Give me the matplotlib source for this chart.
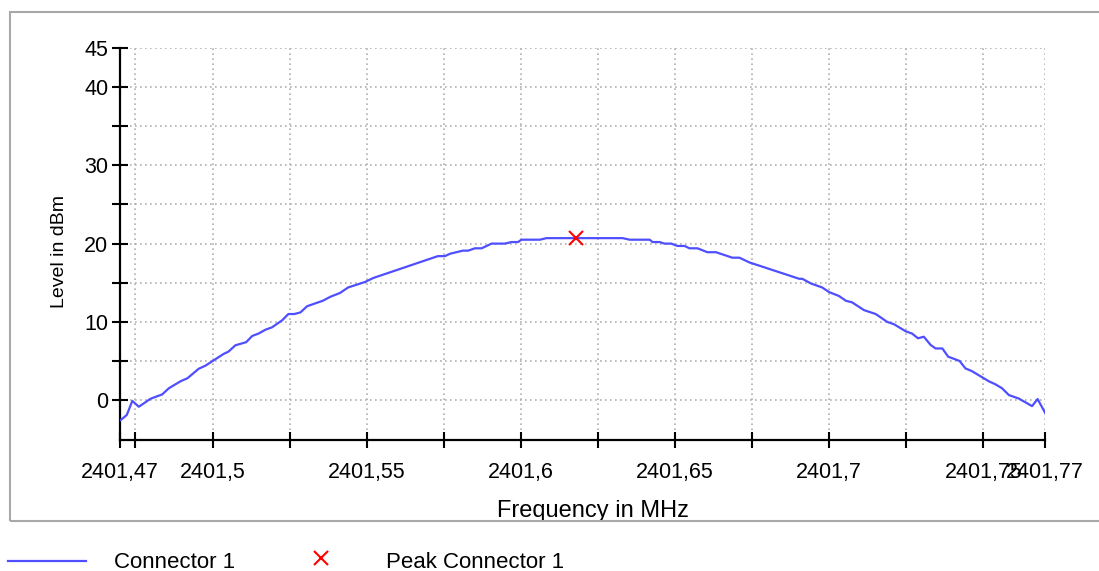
import matplotlib
matplotlib.use("Agg")
import matplotlib.pyplot as plt
from matplotlib.lines import Line2D
from matplotlib.patches import Rectangle

plt.rcParams['font.family'] = ['Liberation Sans', 'DejaVu Sans']

# measured trace (MHz, dBm)
freq = [2401.4702, 2401.4722, 2401.4740, 2401.4761, 2401.4799, 2401.4837, 2401.4858, 2401.4896,
        2401.4919, 2401.4955, 2401.4977, 2401.5036, 2401.5052, 2401.5074, 2401.5109, 2401.5129,
        2401.5149, 2401.5172, 2401.5193, 2401.5226, 2401.5246, 2401.5265, 2401.5285, 2401.5307,
        2401.5358, 2401.5382, 2401.5414, 2401.5440, 2401.5495, 2401.5521, 2401.5731, 2401.5754,
        2401.5770, 2401.5812, 2401.5829, 2401.5851, 2401.5873, 2401.5905, 2401.5948, 2401.5970,
        2401.5991, 2401.6002, 2401.6062, 2401.6083, 2401.6330, 2401.6353, 2401.6418, 2401.6427,
        2401.6450, 2401.6466, 2401.6488, 2401.6508, 2401.6531, 2401.6547, 2401.6573, 2401.6605,
        2401.6633, 2401.6686, 2401.6709, 2401.6741, 2401.6903, 2401.6913, 2401.6941, 2401.6977,
        2401.7000, 2401.7032, 2401.7054, 2401.7074, 2401.7113, 2401.7151, 2401.7188, 2401.7210,
        2401.7248, 2401.7269, 2401.7288, 2401.7307, 2401.7329, 2401.7345, 2401.7367, 2401.7386,
        2401.7423, 2401.7442, 2401.7463, 2401.7518, 2401.7540, 2401.7561, 2401.7583, 2401.7615,
        2401.7658, 2401.7676, 2401.7700]
level = [-2.56, -1.9, -0.1, -0.85, 0.17, 0.73, 1.5, 2.4, 2.8, 4.0, 4.4,
         5.9, 6.2, 7.0, 7.4, 8.2, 8.5, 9.0, 9.3, 10.2, 11.0,
         11.0, 11.2, 12.0, 12.7, 13.2, 13.7, 14.4, 15.1, 15.6,
         18.4, 18.4, 18.7, 19.1, 19.1, 19.4, 19.4, 20.0, 20.0, 20.2,
         20.2, 20.5, 20.5, 20.7, 20.7, 20.5, 20.5, 20.2, 20.2, 20.0,
         20.0, 19.7, 19.7, 19.4, 19.4, 18.9, 18.9, 18.2, 18.2, 17.6,
         15.5, 15.5, 14.9, 14.4, 13.8, 13.3, 12.7, 12.5, 11.5, 11.0,
         10.0, 9.7, 8.8, 8.5, 7.9, 8.1, 7.05, 6.6, 6.6, 5.55,
         5.0, 4.05, 3.7, 2.4, 2.0, 1.5, 0.64, 0.2, -0.77, 0.13, -1.6]

peak_freq = [2401.618]
peak_level = [20.7]

x_ticks = [2401.47, 2401.475, 2401.5, 2401.525, 2401.55, 2401.575, 2401.6, 2401.625,
           2401.65, 2401.675, 2401.7, 2401.725, 2401.75, 2401.77]
x_labels = ['2401,47', '', '2401,5', '', '2401,55', '', '2401,6', '',
            '2401,65', '', '2401,7', '', '2401,75', '2401,77']
y_ticks = [0, 5, 10, 15, 20, 25, 30, 35, 40, 45]
y_labels = ['0', '', '10', '', '20', '', '30', '', '40', '45']

blue = '#4f4fff'

fig = plt.figure(figsize=(10.99, 5.71), dpi=100)
W, H = 1099, 571

ax = fig.add_axes([120 / W, 1 - 440 / H, 925 / W, 392 / H])
ax.plot(freq, level, color=blue, lw=1.6, zorder=3)
ax.plot(peak_freq, peak_level, linestyle='None', marker='x', color='red',
        ms=10, mew=1.5, zorder=4)

ax.set_xlim(2401.47, 2401.77)
ax.set_ylim(-5.1, 45)
ax.set_xticks(x_ticks)
ax.set_xticklabels(x_labels)
ax.set_yticks(y_ticks)
ax.set_yticklabels(y_labels)

ax.grid(True, color='#b0b0b0', linestyle=(0, (1, 2)), lw=1.2)
ax.set_axisbelow(True)
for s in ['top', 'right']:
    ax.spines[s].set_visible(False)
for s in ['left', 'bottom']:
    ax.spines[s].set_linewidth(1.6)
ax.tick_params(axis='both', direction='inout', length=11, width=1.5, labelsize=15.5)
ax.tick_params(axis='x', pad=10)
ax.tick_params(axis='y', pad=3)

# outer frame
frame = Rectangle((10 / W, 1 - 521 / H), 1200 / W, 509 / H, transform=fig.transFigure,
                  fill=False, edgecolor='#a8a8a8', lw=1.5, clip_on=False)
fig.add_artist(frame)
clip_box = Rectangle((10 / W, 1 - 520 / H), 1200 / W, 508 / H, transform=fig.transFigure,
                     fill=False, lw=0)

fig.text(60 / W, 1 - 252 / H, 'Level in dBm', rotation=90, ha='center', va='center', fontsize=14)
xl = fig.text(593 / W, 1 - 517 / H, 'Frequency in MHz', ha='center', va='baseline', fontsize=17)
xl.set_clip_path(clip_box)

# legend below the frame
fig.add_artist(Line2D([8 / W, 86 / W], [1 - 561 / H, 1 - 561 / H], color=blue, lw=1.6,
                      transform=fig.transFigure))
fig.text(114 / W, 1 - 568 / H, 'Connector 1', va='baseline', fontsize=16)
fig.add_artist(Line2D([321 / W], [1 - 558 / H], linestyle='None', marker='x', color='red',
                      ms=10, mew=1.5, transform=fig.transFigure))
fig.text(386 / W, 1 - 568 / H, 'Peak Connector 1', va='baseline', fontsize=16)

fig.savefig('out.png', dpi=100)
